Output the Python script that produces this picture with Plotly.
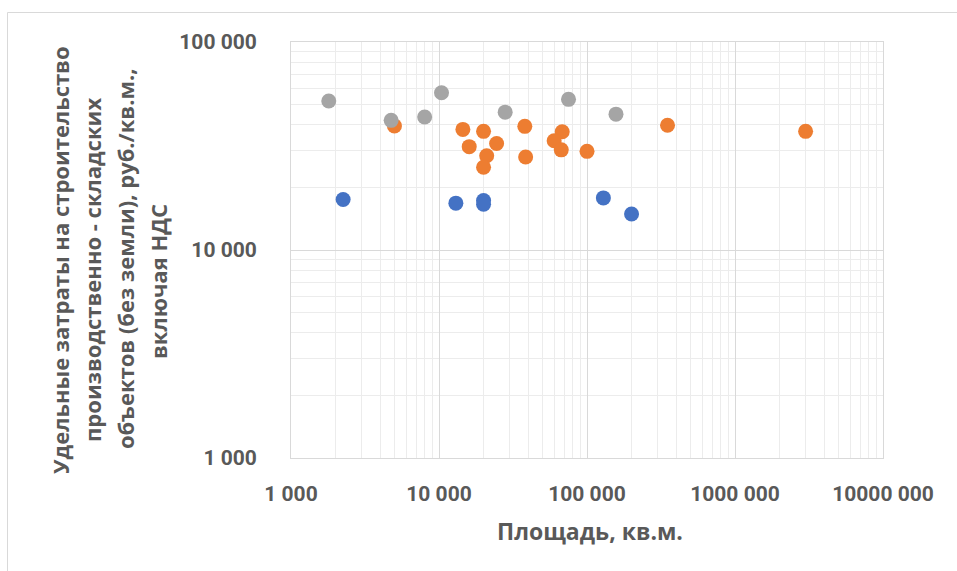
import plotly.graph_objects as go

# Площадь объекта (кв.м.) и удельные затраты (руб./кв.м., вкл. НДС) по группам
blue_x = [2250, 13000, 20000, 20000, 129000, 200000]
blue_y = [17500, 16800, 17300, 16600, 17800, 14900]

orange_x = [5000, 14500, 20000, 16000, 24500, 21000, 20000, 38000, 38500,
            68000, 60000, 67000, 100000, 350000, 3000000]
orange_y = [39500, 38000, 37200, 31400, 32500, 28400, 25000, 39300, 28000,
            37000, 33500, 30300, 29800, 39800, 37200]

gray_x = [1800, 4750, 8000, 10400, 28000, 75000, 157000]
gray_y = [52000, 42000, 43600, 57000, 46000, 53000, 45000]

x_tickvals = [1000, 10000, 100000, 1000000, 10000000]
x_ticktext = ["1 000", "10 000", "100 000", "1000 000", "10000 000"]
y_tickvals = [1000, 10000, 100000]
y_ticktext = ["1 000", "10 000", "100 000"]

x_title = "Площадь, кв.м."
y_title_lines = [
    "Удельные затраты на строительство",
    "производственно - складских",
    "объектов (без земли), руб./кв.м.,",
    "включая НДС",
]

W, H = 957, 571
L, R, T, B = 291, 883, 42, 458  # plot area edges in pixels

TICK_FONT = "Roboto, sans-serif"
TITLE_FONT = "'Open Sans', sans-serif"
TXT = "#595959"


def px_x(p):
    return (p - L) / (R - L)


def px_y(p):
    return (B - p) / (B - T)


fig = go.Figure()
for xs, ys, color in [(blue_x, blue_y, "#4472C4"),
                      (orange_x, orange_y, "#ED7D31"),
                      (gray_x, gray_y, "#A5A5A5")]:
    fig.add_trace(go.Scatter(
        x=xs, y=ys, mode="markers",
        marker=dict(size=15, color=color, line=dict(width=0)),
        showlegend=False, hoverinfo="x+y",
    ))

axis_common = dict(
    type="log",
    showline=True, linecolor="#d9d9d9", linewidth=1, mirror=True,
    showgrid=True, gridcolor="#d9d9d9", gridwidth=1,
    zeroline=False, ticks="",
    tickfont=dict(family=TICK_FONT, size=21, color=TXT, weight="bold"),
    minor=dict(showgrid=True, gridcolor="#ececec", gridwidth=1, dtick="D1", ticks=""),
)

fig.update_xaxes(range=[3, 7], tickmode="array", tickvals=x_tickvals,
                 ticktext=x_ticktext, ticklabelstandoff=17, **axis_common)
fig.update_yaxes(range=[3, 5], tickmode="array", tickvals=y_tickvals,
                 ticktext=y_ticktext, ticklabelstandoff=29, **axis_common)

annotations = [dict(
    text=x_title, xref="paper", yref="paper",
    x=px_x(590), y=px_y(531), xanchor="center", yanchor="middle",
    showarrow=False, font=dict(family=TITLE_FONT, size=23, color=TXT, weight="bold"),
)]

# rotated y-axis title, one line per annotation
line_pos = [(60, 260), (92, 270), (125, 259), (158, 282)]
for text, (cx, cy) in zip(y_title_lines, line_pos):
    annotations.append(dict(
        text=text, xref="paper", yref="paper",
        x=px_x(cx), y=px_y(cy), xanchor="center", yanchor="middle",
        textangle=-90, showarrow=False,
        font=dict(family=TITLE_FONT, size=22, color=TXT, weight="bold"),
    ))

fig.update_layout(
    width=W, height=H,
    margin=dict(l=L, r=W - R, t=T, b=H - B),
    paper_bgcolor="white", plot_bgcolor="white",
    annotations=annotations,
    shapes=[dict(type="rect", xref="paper", yref="paper",
                 x0=px_x(7.5), x1=px_x(1000), y0=px_y(620), y1=px_y(12.5),
                 line=dict(color="#d9d9d9", width=1), layer="below")],
)

fig.write_html("out.html")
